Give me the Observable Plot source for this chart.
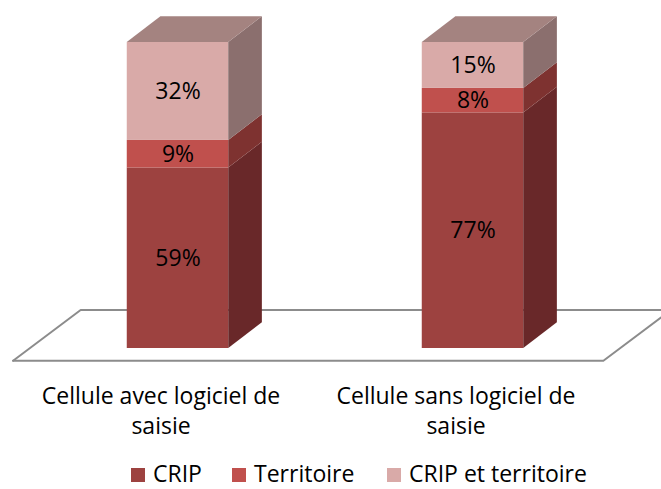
<!DOCTYPE html>
<html><head><meta charset="utf-8">
<script src="https://cdn.jsdelivr.net/npm/d3@7"></script>
<script src="https://cdn.jsdelivr.net/npm/@observablehq/plot@0.6"></script>
<style>
body{margin:0;background:#fff;font-family:"Open Sans",sans-serif;}
#wrap{position:relative;width:661px;height:489px;overflow:hidden;}
#chart{position:absolute;left:0;top:0;}
#legend{position:absolute;left:0;top:463px;width:661px;height:20px;font-size:23px;line-height:20px;color:#000;white-space:nowrap;}
#legend .item{position:absolute;top:0;display:flex;align-items:center;height:20px;}
#legend .sw{width:14px;height:14px;margin-right:8px;margin-top:4px;}
#legend .lbl{display:inline-block;height:20px;line-height:20px;overflow:visible;}
</style></head><body>
<div id="wrap"><div id="chart"></div><div id="legend"></div></div>
<script>
// ---- data ----
const categories = ["Cellule avec logiciel de\nsaisie", "Cellule sans logiciel de\nsaisie"];
const seriesNames = ["CRIP", "Territoire", "CRIP et territoire"];
const cripValues = [59, 77];
const territoireValues = [9, 8];
const cripTerritoireValues = [32, 15];

// ---- styles ----
const frontColors = ["#9D4240", "#C0504D", "#D9AAA8"];
const sideColors = ["#692829", "#7E3230", "#8B6F6E"];
const topColor = "#A48380";
const floorColor = "#8C8C8C";
const legendLeft = [131, 232, 387];

// 3D geometry (in scale units)
const halfWidth = 0.172;   // half bar width in x units
const depthX = 0.114;      // depth offset in x units
const depthY = 8.4;        // depth offset in y units (%)
const floorFront = -4.0, floorBack = 12.6, floorLeft = -0.559, floorRight = 1.442;
const floorShift = 0.229;

const seriesValues = [cripValues, territoireValues, cripTerritoireValues];
const segments = [];
categories.forEach((c, i) => {
  let y0 = 0;
  seriesValues.forEach((vals, s) => {
    const v = vals[i];
    segments.push({i, s, y0, y1: y0 + v, v, key: i + "-" + s});
    y0 += v;
  });
});
const tops = categories.map((c, i) => d3.max(segments.filter(d => d.i === i), d => d.y1));

const sidePts = segments.flatMap(d => [
  {key: d.key, s: d.s, x: d.i + halfWidth, ya: d.y0, yb: d.y1},
  {key: d.key, s: d.s, x: d.i + halfWidth + depthX, ya: d.y0 + depthY, yb: d.y1 + depthY}
]);
const topPts = tops.flatMap((t, i) => [
  {i, y: t, xa: i - halfWidth, xb: i + halfWidth},
  {i, y: t + depthY, xa: i - halfWidth + depthX, xb: i + halfWidth + depthX}
]);
const floorPts = [
  {x: floorLeft, y: floorFront},
  {x: floorLeft + floorShift, y: floorBack},
  {x: floorRight + floorShift + 0.2, y: floorBack},
];
const floorPts2 = [
  {x: floorLeft, y: floorFront},
  {x: floorRight, y: floorFront},
  {x: floorRight + floorShift, y: floorBack}
];

const chart = Plot.plot({
  width: 661,
  height: 455,
  margin: 0,
  x: {domain: [0, 1], range: [177.5, 472.5], axis: null},
  y: {domain: [0, 100], range: [348, 42], axis: null},
  color: {type: "identity"},
  style: {fontFamily: "'Open Sans', sans-serif", background: "#fff", overflow: "hidden"},
  marks: [
    Plot.line(floorPts, {x: "x", y: "y", stroke: floorColor, strokeWidth: 2}),
    Plot.line(floorPts2, {x: "x", y: "y", stroke: floorColor, strokeWidth: 2}),
    Plot.rect(segments, {x1: d => d.i - halfWidth, x2: d => d.i + halfWidth, y1: "y0", y2: "y1", fill: d => frontColors[d.s]}),
    Plot.areaY(sidePts, {x: "x", y1: "ya", y2: "yb", z: "key", fill: d => sideColors[d.s], curve: "linear"}),
    Plot.areaX(topPts, {y: "y", x1: "xa", x2: "xb", z: "i", fill: topColor, curve: "linear"}),
    Plot.text(segments, {x: "i", y: d => (d.y0 + d.y1) / 2, text: d => d.v + "%", fill: "#000", fontSize: 23}),
    Plot.text(categories, {x: (d, i) => i, y: () => 0, dx: -17, dy: 61, text: d => d, fill: "#000", fontSize: 23, lineHeight: 1.3})
  ]
});
document.getElementById("chart").appendChild(chart);

const legend = document.getElementById("legend");
seriesNames.forEach((name, s) => {
  const item = document.createElement("div");
  item.className = "item";
  item.style.left = legendLeft[s] + "px";
  const sw = document.createElement("div");
  sw.className = "sw";
  sw.style.background = frontColors[s];
  const t = document.createElement("span");
  t.className = "lbl";
  t.textContent = name;
  item.appendChild(sw); item.appendChild(t);
  legend.appendChild(item);
});
</script>
</body></html>
